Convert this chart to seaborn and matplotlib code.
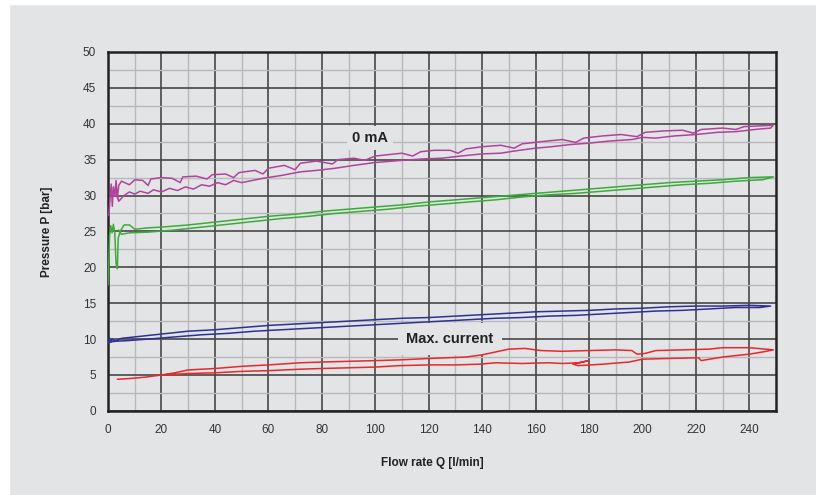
import matplotlib
matplotlib.use("Agg")
import matplotlib.pyplot as plt
from matplotlib.patches import Rectangle
from matplotlib.ticker import MultipleLocator
import pandas as pd
import seaborn as sns

ma0_x = [0.3, 0.8, 1.2, 1.6, 2.0, 2.5, 3.0, 3.5, 4.0, 5, 8, 10, 13, 15, 16, 20, 24, 27, 28, 33, 37, 39,
         44, 47, 49, 55, 58, 60, 66, 70, 72, 78, 84, 86, 92, 96, 100, 105, 110, 114, 117, 122, 128, 131,
         134, 140, 147, 152, 155, 162, 170, 175, 178, 185, 192, 198, 201, 208, 215, 219, 222, 230, 235,
         238, 244, 249,
         248, 242, 235, 228, 220, 212, 205, 200, 196, 188, 180, 173, 166, 160, 152, 147, 140, 132, 125,
         118, 110, 100, 92, 85, 78, 72, 65, 58, 50, 47, 44, 41, 38, 35, 32, 29, 26, 23, 20, 17, 15, 12,
         10, 8, 6, 4, 3]
ma0_y = [27.2, 29.8, 31.6, 28.5, 31.2, 30.0, 32.1, 29.6, 31.4, 32.0, 31.5, 32.2, 32.1, 31.4, 32.3, 32.5,
         32.4, 31.8, 32.6, 32.7, 32.3, 32.9, 33.0, 32.5, 33.2, 33.5, 33.0, 33.8, 34.2, 33.6, 34.5, 34.8,
         34.4, 35.0, 35.2, 34.9, 35.5, 35.7, 35.9, 35.5, 36.1, 36.3, 36.3, 35.9, 36.5, 36.8, 37.0, 36.6,
         37.2, 37.5, 37.8, 37.4, 38.0, 38.3, 38.5, 38.2, 38.8, 39.0, 39.1, 38.7, 39.2, 39.4, 39.2, 39.6,
         39.7, 39.8,
         39.4, 39.2, 38.9, 38.8, 38.5, 38.3, 38.0, 38.1, 37.8, 37.6, 37.3, 37.1, 36.8, 36.6, 36.2, 35.9,
         35.8, 35.5, 35.2, 35.1, 34.9, 34.6, 34.2, 33.8, 33.5, 33.3, 32.8, 32.4, 31.8, 32.1, 31.5, 31.8,
         31.3, 31.5, 30.9, 31.2, 30.7, 31.0, 30.5, 30.8, 30.3, 30.6, 30.2, 30.5, 30.0, 29.2, 30.5]

green_x = [0.0, 0.3, 0.6, 1.0, 1.5, 2.0, 2.5, 3.0, 3.5, 3.8, 4.5, 6, 8, 10, 15, 20, 30, 40, 50, 60, 70,
           80, 90, 100, 110, 120, 130, 140, 150, 160, 170, 180, 190, 200, 210, 220, 230, 240, 249,
           245, 235, 225, 215, 205, 195, 185, 175, 165, 155, 145, 135, 125, 115, 105, 95, 85, 75, 65,
           55, 45, 35, 25, 15, 8, 5, 4]
green_y = [17.5, 21.0, 24.5, 25.8, 24.8, 26.0, 24.9, 20.5, 19.8, 24.0, 25.0, 25.9, 25.9, 25.3, 25.5,
           25.6, 25.9, 26.3, 26.7, 27.1, 27.4, 27.8, 28.1, 28.4, 28.7, 29.1, 29.4, 29.7, 30.0, 30.3,
           30.6, 30.9, 31.2, 31.5, 31.8, 32.0, 32.2, 32.5, 32.6,
           32.2, 32.0, 31.7, 31.5, 31.2, 30.9, 30.6, 30.3, 30.1, 29.8, 29.4, 29.1, 28.8, 28.5, 28.1,
           27.8, 27.5, 27.1, 26.8, 26.4, 26.0, 25.6, 25.2, 24.9, 24.8, 24.6, 25.2]

blue_x = [0.2, 0.5, 1.0, 1.5, 2.5, 5, 10, 20, 30, 40, 50, 60, 70, 80, 90, 100, 110, 120, 130, 140, 150,
          160, 170, 180, 190, 200, 210, 220, 230, 240, 248,
          244, 235, 225, 215, 205, 195, 185, 175, 165, 155, 145, 135, 125, 115, 105, 95, 85, 75, 65,
          55, 45, 35, 25, 15, 8, 3, 0.5]
blue_y = [9.4, 10.2, 9.6, 10.0, 9.7, 10.1, 10.3, 10.7, 11.1, 11.3, 11.6, 11.9, 12.1, 12.3, 12.5, 12.7,
          12.9, 13.0, 13.2, 13.4, 13.6, 13.8, 13.9, 14.0, 14.2, 14.3, 14.5, 14.6, 14.6, 14.7, 14.6,
          14.4, 14.4, 14.2, 14.0, 13.9, 13.7, 13.5, 13.3, 13.2, 13.0, 12.9, 12.7, 12.5, 12.3, 12.1,
          11.9, 11.7, 11.5, 11.3, 11.1, 10.8, 10.6, 10.3, 10.0, 9.8, 9.7, 9.6]

red_x = [3.5, 8, 14, 20, 25, 30, 40, 50, 60, 72, 80, 90, 100, 109, 115, 120, 134, 140, 145, 150, 156,
         162, 170, 180, 190, 196, 198, 201, 205, 215, 225, 230, 240, 249,
         245, 240, 230, 222, 221, 210, 200, 195, 185, 176, 174, 180, 176, 170, 165, 155, 145, 139, 130,
         120, 109, 100, 90, 80, 72, 60, 50, 40, 30, 20]
red_y = [4.4, 4.5, 4.7, 5.0, 5.3, 5.7, 5.9, 6.2, 6.4, 6.7, 6.8, 6.9, 7.0, 7.1, 7.2, 7.3, 7.5, 7.8, 8.2,
         8.6, 8.7, 8.4, 8.3, 8.4, 8.5, 8.4, 7.9, 8.0, 8.4, 8.5, 8.6, 8.8, 8.8, 8.5,
         8.2, 7.9, 7.5, 7.0, 7.4, 7.3, 7.2, 6.8, 6.5, 6.3, 6.5, 7.0, 6.7, 6.6, 6.7, 6.6, 6.7, 6.5, 6.4,
         6.4, 6.3, 6.1, 6.0, 5.9, 5.8, 5.6, 5.5, 5.3, 5.2, 5.0]

curve_names = ["0 mA", "green", "blue", "Max. current"]
curve_colors = ["#b0449c", "#3bab3a", "#2d3294", "#e8282b"]

bg = "#e3e4e6"

frames = []
for name, xs, ys in zip(curve_names, [ma0_x, green_x, blue_x, red_x], [ma0_y, green_y, blue_y, red_y]):
    frames.append(pd.DataFrame({"flow": xs, "pressure": ys, "curve": name}))
df = pd.concat(frames, ignore_index=True)

sns.set_style("white")
plt.rcParams["font.family"] = ["Liberation Sans", "DejaVu Sans"]

fig = plt.figure(figsize=(8.16, 4.95), dpi=100, facecolor=bg)
# thin white border on the top and left like the scan
fig.patches.append(Rectangle((0, 0.992), 1, 0.008, transform=fig.transFigure, color="white", zorder=0))
fig.patches.append(Rectangle((0, 0), 0.011, 1, transform=fig.transFigure, color="white", zorder=0))

ax = fig.add_axes([0.1324, 0.170, 0.8186, 0.725])
ax.set_facecolor(bg)

sns.lineplot(data=df, x="flow", y="pressure", hue="curve", palette=dict(zip(curve_names, curve_colors)),
             sort=False, estimator=None, legend=False, lw=1.1, ax=ax, zorder=3)

ax.set_xlim(0, 250)
ax.set_ylim(0, 50)
ax.xaxis.set_major_locator(MultipleLocator(20))
ax.xaxis.set_minor_locator(MultipleLocator(10))
ax.yaxis.set_major_locator(MultipleLocator(5))
ax.yaxis.set_minor_locator(MultipleLocator(2.5))

ax.grid(which="major", color="#474747", lw=1.2, zorder=1)
ax.grid(which="minor", color="#b9b9bb", lw=1.0, zorder=1)
ax.set_axisbelow(True)

ax.tick_params(which="major", direction="inout", length=9, width=1.6, color="#222222",
               labelsize=8.5, labelcolor="#333333", pad=5)
ax.tick_params(which="minor", direction="inout", length=7, width=1.6, color="#222222")
ax.tick_params(axis="y", pad=4)
for s in ax.spines.values():
    s.set_visible(True)
    s.set_color("#222222")
    s.set_linewidth(1.8)

ax.set_xlabel("Flow rate Q [l/min]", fontsize=8.5, fontweight="bold", color="#222222")
ax.set_ylabel("Pressure P [bar]", fontsize=8.5, fontweight="bold", color="#222222")
ax.xaxis.set_label_coords(0.485, -0.128)
ax.yaxis.set_label_coords(-0.083, 0.5)

ax.text(98, 38, "0 mA", ha="center", va="center", fontsize=10.5, fontweight="bold", color="#222222",
        bbox=dict(boxstyle="square,pad=0.35", facecolor=bg, edgecolor="none"), zorder=2)
ax.text(128, 10, "Max. current", ha="center", va="center", fontsize=10.5, fontweight="bold",
        color="#222222", bbox=dict(boxstyle="square,pad=0.6", facecolor=bg, edgecolor="none"), zorder=2)

fig.savefig("out.png", dpi=100, facecolor=bg)
